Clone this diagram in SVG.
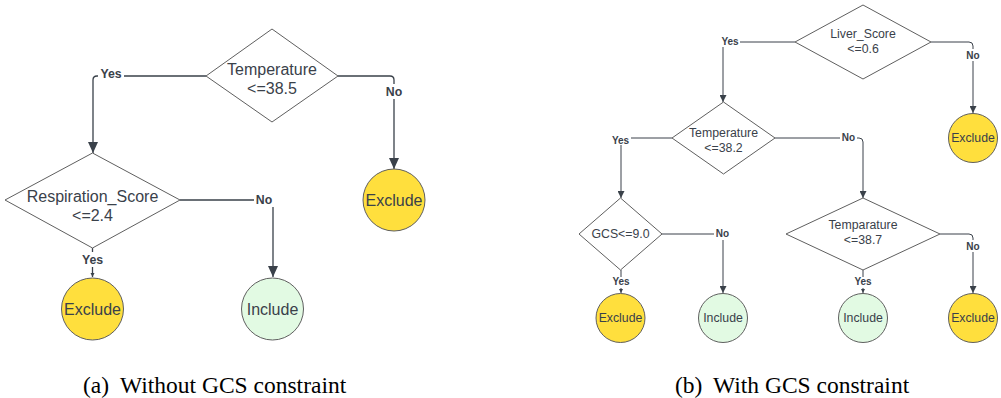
<svg xmlns="http://www.w3.org/2000/svg" width="1001" height="398" viewBox="0 0 1001 398">
<defs>
<style>
.dia{fill:#fff;stroke:#5f5f5f;stroke-width:1}
.ex{fill:#ffdf3d;stroke:#5f5f5f;stroke-width:1}
.in{fill:#e2fae3;stroke:#5f5f5f;stroke-width:1}
.t{font-family:"Liberation Sans",Arial,sans-serif;fill:#3a414a;text-anchor:middle}
.L{font-size:16px}
.S{font-size:12.3px}
.lab{font-family:"Liberation Sans",Arial,sans-serif;font-weight:bold;fill:#3a414a;text-anchor:middle}
.c{fill:none;stroke:#3a414a;stroke-width:1.3}
.cs{fill:none;stroke:#3a414a;stroke-width:1}
.cap{font-family:"Liberation Serif","Times New Roman",serif;font-size:23.5px;fill:#000}
</style>
<marker id="aLg" markerUnits="userSpaceOnUse" markerWidth="12" markerHeight="10" refX="11" refY="5" orient="auto" viewBox="0 0 12 10"><path d="M0,0 L11,5 L0,10 Z" fill="#3a414a"/></marker>
<marker id="aSm" markerUnits="userSpaceOnUse" markerWidth="8" markerHeight="7" refX="7" refY="3.5" orient="auto" viewBox="0 0 8 7"><path d="M0,0 L7,3.5 L0,7 Z" fill="#3a414a"/></marker>
<marker id="aT" markerUnits="userSpaceOnUse" markerWidth="5" markerHeight="5" refX="4" refY="2" orient="auto" viewBox="0 0 5 4"><path d="M0,0 L4,2 L0,4 Z" fill="#3a414a"/></marker>
</defs>

<g id="connectors">
<path class="c" d="M206,76 H97 Q93,76 93,80 V153" marker-end="url(#aLg)"/>
<path class="c" d="M338,76 H390 Q394,76 394,80 V169" marker-end="url(#aLg)"/>
<path class="c" d="M180,200 H269 Q273,200 273,204 V277" marker-end="url(#aLg)"/>
<path class="c" d="M92.5,248 V277" marker-end="url(#aT)"/>
<path class="cs" d="M795,42 H723 V102" marker-end="url(#aSm)"/>
<path class="cs" d="M931,42 H969 Q973,42 973,46 V113" marker-end="url(#aSm)"/>
<path class="cs" d="M672,138 H621 V198" marker-end="url(#aSm)"/>
<path class="cs" d="M775,138 H859 Q863,138 863,142 V198" marker-end="url(#aSm)"/>
<path class="cs" d="M662,234 H723 V293" marker-end="url(#aSm)"/>
<path class="cs" d="M621,270 V293" marker-end="url(#aT)"/>
<path class="cs" d="M863,270 V293" marker-end="url(#aT)"/>
<path class="cs" d="M940,234 H969 Q973,234 973,238 V293" marker-end="url(#aSm)"/>
<g fill="#fff">
<rect x="98" y="66" width="26" height="15"/>
<rect x="384" y="84" width="20" height="15"/>
<rect x="254" y="192" width="20" height="15"/>
<rect x="79" y="252" width="27" height="15"/>
<rect x="719" y="35" width="21" height="12"/>
<rect x="964" y="49" width="18" height="12"/>
<rect x="610" y="133" width="21" height="12"/>
<rect x="840" y="132" width="17" height="12"/>
<rect x="714" y="228" width="17" height="12"/>
<rect x="611" y="277" width="21" height="11"/>
<rect x="853" y="277" width="21" height="11"/>
<rect x="964" y="240" width="18" height="12"/>
</g>
<g class="lab" font-size="12.3">
<text x="111" y="78">Yes</text>
<text x="394" y="96">No</text>
<text x="264" y="204">No</text>
<text x="92.5" y="264">Yes</text>
</g>
<g class="lab" font-size="10">
<text x="730" y="45">Yes</text>
<text x="973" y="59">No</text>
<text x="620.5" y="144">Yes</text>
<text x="848.5" y="141">No</text>
<text x="722.5" y="237">No</text>
<text x="621" y="285">Yes</text>
<text x="863" y="285">Yes</text>
<text x="973" y="250">No</text>
</g>
</g>

<g id="n-temp-a">
<path class="dia" d="M272,29 L338,76 L272,122 L206,76 Z" stroke-linejoin="round"/>
<text class="t L" x="272" y="75">Temperature</text>
<text class="t L" x="272" y="94">&lt;=38.5</text>
</g>
<g id="n-resp">
<path class="dia" d="M92.5,153 L180,200 L92.5,248 L5,200 Z" stroke-linejoin="round"/>
<text class="t L" x="92.5" y="202">Respiration_Score</text>
<text class="t L" x="92.5" y="221">&lt;=2.4</text>
</g>
<g id="n-exclude-a1">
<circle class="ex" cx="394" cy="200" r="31"/>
<text class="t L" x="394" y="206">Exclude</text>
</g>
<g id="n-exclude-a2">
<circle class="ex" cx="92.5" cy="309" r="31"/>
<text class="t L" x="92.5" y="315">Exclude</text>
</g>
<g id="n-include-a">
<circle class="in" cx="272.5" cy="309" r="31"/>
<text class="t L" x="272.5" y="315">Include</text>
</g>

<g id="n-liver">
<path class="dia" d="M863,5 L931,42 L863,79 L795,42 Z" stroke-linejoin="round"/>
<text class="t S" x="863" y="38">Liver_Score</text>
<text class="t S" x="863" y="53">&lt;=0.6</text>
</g>
<g id="n-temp-b">
<path class="dia" d="M723.5,102 L775,138 L723.5,174 L672,138 Z" stroke-linejoin="round"/>
<text class="t S" x="723.5" y="137">Temperature</text>
<text class="t S" x="723.5" y="152">&lt;=38.2</text>
</g>
<g id="n-gcs">
<path class="dia" d="M620.5,198 L662,234 L620.5,270 L579,234 Z" stroke-linejoin="round"/>
<text class="t S" x="620.5" y="238">GCS&lt;=9.0</text>
</g>
<g id="n-tempa">
<path class="dia" d="M863,198 L940,234 L863,270 L786,234 Z" stroke-linejoin="round"/>
<text class="t S" x="863" y="229">Temparature</text>
<text class="t S" x="863" y="244">&lt;=38.7</text>
</g>
<g id="n-exclude-b1">
<circle class="ex" cx="973" cy="138" r="24.5"/>
<text class="t S" x="973" y="142">Exclude</text>
</g>
<g id="n-exclude-b2">
<circle class="ex" cx="620.5" cy="318" r="24.5"/>
<text class="t S" x="620.5" y="322">Exclude</text>
</g>
<g id="n-include-b1">
<circle class="in" cx="723" cy="318" r="24.5"/>
<text class="t S" x="723" y="322">Include</text>
</g>
<g id="n-include-b2">
<circle class="in" cx="863" cy="318" r="24.5"/>
<text class="t S" x="863" y="322">Include</text>
</g>
<g id="n-exclude-b3">
<circle class="ex" cx="973" cy="318" r="24.5"/>
<text class="t S" x="973" y="322">Exclude</text>
</g>

<text class="cap" y="393"><tspan x="83">(a)</tspan><tspan x="120">Without GCS constraint</tspan></text>
<text class="cap" y="393"><tspan x="675">(b)</tspan><tspan x="713">With GCS constraint</tspan></text>
</svg>
